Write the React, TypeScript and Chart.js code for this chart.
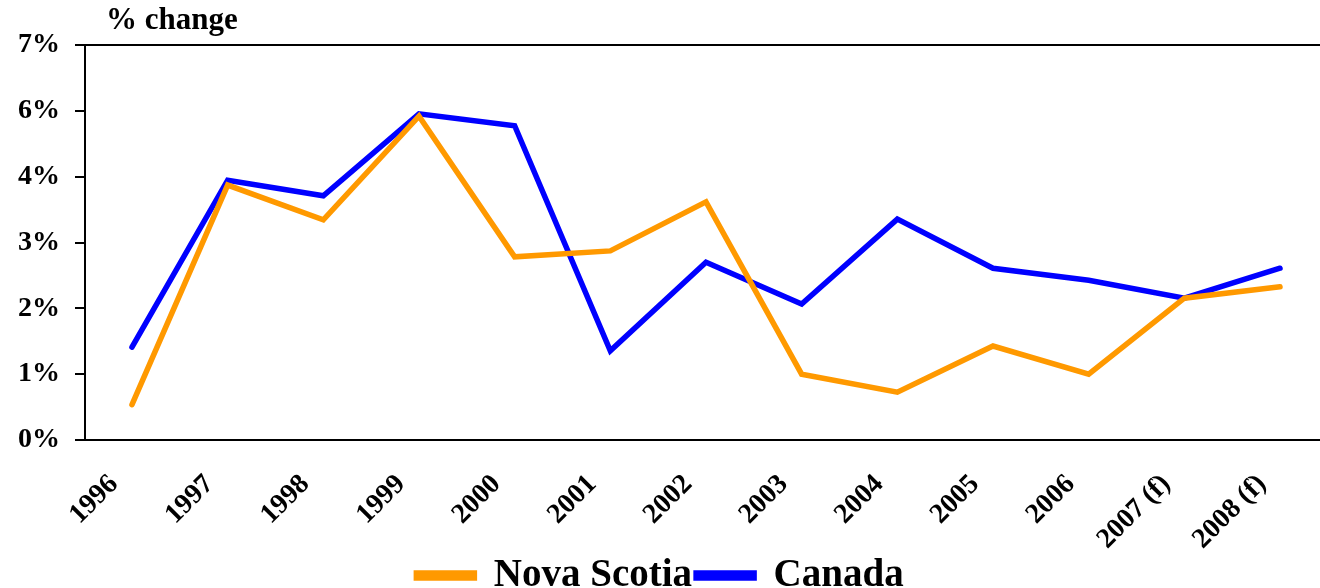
import React, { useEffect, useRef } from "react";
import { Chart, registerables } from "chart.js";

Chart.register(...registerables);

const categories = ["1996", "1997", "1998", "1999", "2000", "2001", "2002", "2003", "2004", "2005", "2006", "2007 (f)", "2008 (f)"];
const novaScotia = [0.59, 4.26, 3.68, 5.41, 3.06, 3.16, 3.98, 1.1, 0.8, 1.57, 1.1, 2.37, 2.56];
const canada = [1.55, 4.34, 4.08, 5.45, 5.25, 1.49, 2.97, 2.27, 3.69, 2.87, 2.67, 2.37, 2.87];
const yTickLabels = ["0%", "1%", "2%", "3%", "4%", "6%", "7%"];
const yAxisMax = 6.6;
const titleText = "% change";

const FONT = '"Liberation Serif", "Times New Roman", serif';

export default function App() {
  const ref = useRef<HTMLCanvasElement | null>(null);

  useEffect(() => {
    if (!ref.current) return;
    const step = yAxisMax / (yTickLabels.length - 1);
    const titlePlugin = {
      id: "topTitle",
      afterDraw(chart: any) {
        const ctx = chart.ctx;
        ctx.save();
        ctx.font = `bold 31px ${FONT}`;
        ctx.fillStyle = "#000";
        ctx.textAlign = "left";
        ctx.textBaseline = "alphabetic";
        ctx.fillText(titleText, 106, 29);
        ctx.restore();
      },
    };
    const chart = new Chart(ref.current, {
      type: "line",
      data: {
        datasets: [
          {
            label: "Nova Scotia",
            data: novaScotia.map((y, i) => ({ x: i, y })),
            borderColor: "#FF9900",
            backgroundColor: "#FF9900",
            borderWidth: 5.5,
            pointRadius: 0,
            tension: 0,
            borderCapStyle: "round",
          },
          {
            label: "Canada",
            data: canada.map((y, i) => ({ x: i, y })),
            borderColor: "#0000FF",
            backgroundColor: "#0000FF",
            borderWidth: 5.5,
            pointRadius: 0,
            tension: 0,
            borderCapStyle: "round",
          },
        ],
      },
      options: {
        animation: false,
        responsive: true,
        maintainAspectRatio: false,
        layout: { padding: { top: 45, left: 0, right: 0, bottom: 0 } },
        plugins: {
          tooltip: { enabled: false },
          title: { display: false },
          legend: {
            display: true,
            position: "bottom",
            labels: {
              font: { family: FONT, size: 39, weight: "bold" },
              color: "#000",
              boxWidth: 58,
              boxHeight: 5,
              padding: 4,
            },
          },
        },
        scales: {
          x: {
            type: "linear",
            min: -0.491,
            max: 12.418,
            afterBuildTicks: (scale: any) => {
              scale.ticks = categories.map((_, i) => ({ value: i }));
            },
            afterFit: (scale: any) => {
              scale.height = 112;
              scale.paddingRight = 0;
              scale.paddingLeft = 0;
            },
            grid: { display: false },
            border: { display: true, color: "#000", width: 2 },
            ticks: {
              autoSkip: false,
              maxRotation: 45,
              minRotation: 45,
              labelOffset: -18,
              padding: 20,
              color: "#000",
              font: { family: FONT, size: 28, weight: "bold" },
              callback: (v: any) => categories[Math.round(Number(v))] ?? "",
            },
          },
          y: {
            min: 0,
            max: yAxisMax,
            afterBuildTicks: (scale: any) => {
              scale.ticks = yTickLabels.map((_, i) => ({ value: i * step }));
            },
            afterFit: (scale: any) => {
              scale.width = 85;
            },
            grid: {
              color: (c: any) => (c.index === yTickLabels.length - 1 ? "#000" : "rgba(0,0,0,0)"),
              lineWidth: 2,
              tickColor: "#000",
              tickLength: 10,
              drawTicks: true,
            },
            border: { display: true, color: "#000", width: 2 },
            ticks: {
              padding: 15,
              color: "#000",
              font: { family: FONT, size: 28, weight: "bold" },
              callback: (_v: any, i: number) => yTickLabels[i],
            },
          },
        },
      },
      plugins: [titlePlugin],
    } as any);
    return () => chart.destroy();
  }, []);

  return (
    <div style={{ position: "absolute", left: 0, top: 0, width: 1320, height: 588, overflow: "hidden", background: "#fff" }}>
      <div style={{ position: "relative", width: 1320, height: 605 }}>
        <canvas ref={ref} />
      </div>
    </div>
  );
}
